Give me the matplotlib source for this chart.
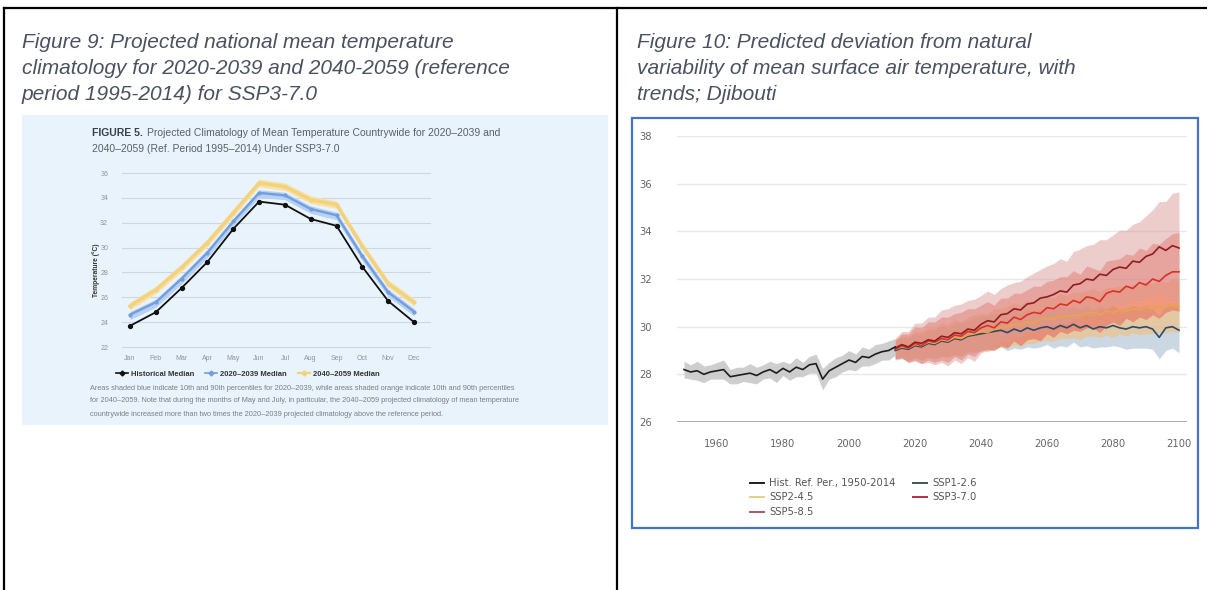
import matplotlib

matplotlib.use('Agg')
import matplotlib.pyplot as plt
from matplotlib.patches import Rectangle
from matplotlib.lines import Line2D
import numpy as np

# --- Figure 9 data: monthly national mean temperature (deg C) ---
months = ['Jan', 'Feb', 'Mar', 'Apr', 'May', 'Jun', 'Jul', 'Aug', 'Sep', 'Oct', 'Nov', 'Dec']
hist_median = [23.7, 24.8, 26.75, 28.85, 31.5, 33.7, 33.45, 32.3, 31.75, 28.45, 25.7, 24.0]
median_2020_2039 = [24.6, 25.6, 27.5, 29.6, 32.1, 34.4, 34.2, 33.1, 32.6, 29.3, 26.4, 24.85]
median_2040_2059 = [25.3, 26.6, 28.4, 30.4, 32.8, 35.2, 34.9, 33.85, 33.45, 30.1, 27.1, 25.6]
p10_2020_2039 = [24.2, 25.2, 27.1, 29.2, 31.75, 34.05, 33.85, 32.75, 32.25, 28.95, 26.05, 24.5]
p90_2020_2039 = [24.85, 25.85, 27.75, 29.85, 32.35, 34.65, 34.45, 33.35, 32.85, 29.55, 26.65, 25.1]
p10_2040_2059 = [25.0, 26.3, 28.1, 30.1, 32.5, 34.9, 34.6, 33.55, 33.15, 29.8, 26.8, 25.3]
p90_2040_2059 = [25.6, 26.9, 28.7, 30.7, 33.1, 35.5, 35.2, 34.15, 33.75, 30.4, 27.4, 25.9]

# --- Figure 10 data: annual mean surface air temperature (deg C) ---
hist_years = list(range(1950, 2015, 2))
hist_temp = [28.2, 28.1, 28.15, 28.0, 28.1, 28.15, 28.2, 27.9, 27.95, 28.0, 28.05,
             27.95, 28.1, 28.2, 28.05, 28.25, 28.1, 28.3, 28.2, 28.4, 28.45, 27.8,
             28.15, 28.3, 28.45, 28.6, 28.5, 28.75, 28.7, 28.85, 28.95, 29.0, 29.15]
hist_spread = [0.35, 0.3, 0.4, 0.35, 0.3, 0.35, 0.4, 0.3, 0.35, 0.3, 0.4,
               0.35, 0.3, 0.35, 0.4, 0.3, 0.35, 0.4, 0.3, 0.35, 0.4, 0.45,
               0.35, 0.4, 0.35, 0.4, 0.35, 0.4, 0.35, 0.4, 0.35, 0.4, 0.35]

proj_years = list(range(2014, 2101, 2))
ssp126 = [29.0, 29.1, 29.05, 29.2, 29.15, 29.3, 29.25, 29.4, 29.35, 29.5, 29.45,
          29.6, 29.65, 29.7, 29.75, 29.8, 29.85, 29.75, 29.9, 29.8, 29.95, 29.85,
          29.95, 30.0, 29.9, 30.05, 29.95, 30.1, 29.95, 30.05, 29.9, 30.0, 29.95,
          30.05, 29.95, 29.9, 30.0, 29.95, 30.0, 29.9, 29.55, 29.95, 30.0, 29.85]
ssp245 = [29.05, 29.15, 29.1, 29.25, 29.2, 29.35, 29.3, 29.45, 29.4, 29.55, 29.5,
          29.65, 29.7, 29.8, 29.75, 29.9, 29.95, 30.0, 30.1, 30.05, 30.2, 30.15,
          30.3, 30.35, 30.3, 30.45, 30.4, 30.5, 30.45, 30.55, 30.6, 30.5, 30.65,
          30.6, 30.7, 30.65, 30.75, 30.7, 30.8, 30.75, 30.85, 30.8, 30.9, 30.85]
ssp370 = [29.05, 29.2, 29.1, 29.3, 29.2, 29.4, 29.35, 29.5, 29.45, 29.65, 29.6,
          29.8, 29.75, 29.95, 30.05, 29.95, 30.2, 30.15, 30.4, 30.3, 30.5, 30.6,
          30.55, 30.8, 30.75, 30.95, 30.9, 31.1, 31.0, 31.25, 31.2, 31.05, 31.4,
          31.5, 31.45, 31.7, 31.6, 31.85, 31.75, 32.0, 31.9, 32.15, 32.3, 32.3]
ssp585 = [29.1, 29.25, 29.15, 29.35, 29.3, 29.45, 29.4, 29.6, 29.55, 29.75, 29.7,
          29.9, 29.85, 30.1, 30.25, 30.2, 30.5, 30.55, 30.75, 30.7, 30.95, 31.0,
          31.2, 31.25, 31.35, 31.5, 31.45, 31.75, 31.8, 32.0, 31.95, 32.2, 32.15,
          32.4, 32.5, 32.45, 32.75, 32.7, 32.95, 33.05, 33.35, 33.2, 33.4, 33.3]
ssp126_spread = [0.4, 0.45, 0.5, 0.5, 0.55, 0.6, 0.6, 0.65, 0.6, 0.65, 0.7,
                 0.65, 0.7, 0.75, 0.7, 0.75, 0.7, 0.75, 0.8, 0.75, 0.8, 0.75,
                 0.8, 0.75, 0.8, 0.85, 0.8, 0.75, 0.8, 0.85, 0.8, 0.85, 0.8,
                 0.85, 0.8, 0.85, 0.9, 0.85, 0.9, 0.85, 0.9, 0.95, 0.9, 0.95]
ssp245_spread = [0.4, 0.45, 0.5, 0.55, 0.6, 0.6, 0.65, 0.7, 0.7, 0.75, 0.7,
                 0.75, 0.8, 0.75, 0.8, 0.85, 0.8, 0.85, 0.9, 0.85, 0.9, 0.85,
                 0.9, 0.95, 0.9, 0.95, 0.9, 0.95, 1.0, 0.95, 1.0, 0.95, 1.0,
                 1.05, 1.0, 1.05, 1.0, 1.05, 1.1, 1.05, 1.1, 1.05, 1.1, 1.1]
ssp370_spread = [0.4, 0.5, 0.6, 0.7, 0.75, 0.8, 0.85, 0.9, 0.95, 0.9, 1.0,
                 0.95, 1.0, 0.95, 1.0, 0.95, 1.0, 1.05, 1.0, 1.1, 1.05, 1.1,
                 1.15, 1.1, 1.2, 1.15, 1.2, 1.25, 1.2, 1.3, 1.25, 1.3, 1.35,
                 1.3, 1.4, 1.35, 1.4, 1.45, 1.45, 1.5, 1.55, 1.55, 1.6, 1.65]
ssp585_spread = [0.4, 0.55, 0.65, 0.8, 0.85, 0.95, 1.0, 1.1, 1.2, 1.15, 1.25,
                 1.2, 1.3, 1.2, 1.25, 1.15, 1.1, 1.2, 1.1, 1.2, 1.15, 1.25,
                 1.2, 1.3, 1.3, 1.35, 1.3, 1.4, 1.45, 1.4, 1.5, 1.45, 1.5,
                 1.45, 1.55, 1.6, 1.55, 1.7, 1.7, 1.85, 1.9, 2.05, 2.2, 2.35]

W, H = 1207, 590
fig = plt.figure(figsize=(W / 100, H / 100), dpi=100)


def px_axes(x0, y0, x1, y1):
    # axes placed by pixel box (top-left origin)
    return fig.add_axes([x0 / W, 1 - y1 / H, (x1 - x0) / W, (y1 - y0) / H])


# page layer: table rules, captions and the image backgrounds
bg = fig.add_axes([0, 0, 1, 1])
bg.set_xlim(0, W)
bg.set_ylim(H, 0)
bg.axis('off')
bg.plot([4, W], [8, 8], color='black', lw=1.6)
bg.plot([4, 4], [8, H], color='black', lw=1.6)
bg.plot([617, 617], [8, H], color='black', lw=1.6)

cap = dict(fontsize=15, style='italic', color='#4a5160', family='Liberation Sans', va='center')
for i, line in enumerate(['Figure 9: Projected national mean temperature',
                          'climatology for 2020-2039 and 2040-2059 (reference',
                          'period 1995-2014) for SSP3-7.0']):
    bg.text(22, 42 + 26 * i, line, **cap)
for i, line in enumerate(['Figure 10: Predicted deviation from natural',
                          'variability of mean surface air temperature, with',
                          'trends; Djibouti']):
    bg.text(637, 42 + 26 * i, line, **cap)

bg.add_patch(Rectangle((22, 115), 586, 310, fc='#e8f3fc', ec='none'))
bg.add_patch(Rectangle((632, 118), 566, 410, fc='white', ec='#4472c4', lw=1.6))

small = ['Liberation Sans Narrow', 'Liberation Sans']
fig5 = bg.text(92, 133, 'FIGURE 5.', fontsize=7.5, fontweight='bold', color='#3a4048',
               family=small, va='center')
bg.annotate('Projected Climatology of Mean Temperature Countrywide for 2020\u20132039 and',
            xy=(1, 0.5), xycoords=fig5, xytext=(3, 0), textcoords='offset points',
            fontsize=7.5, color='#5a6068', family=small, va='center')
bg.text(92, 149, '2040\u20132059 (Ref. Period 1995\u20132014) Under SSP3-7.0',
        fontsize=7.5, color='#5a6068', family=small, va='center')
bg.text(96, 270, 'Temperature (\u00b0C)', rotation=90, fontsize=4.8, fontweight='bold',
        color='#333333', family=small, ha='center', va='center')
notes = ['Areas shaded blue indicate 10th and 90th percentiles for 2020\u20132039, while areas shaded orange indicate 10th and 90th percentiles',
         'for 2040\u20132059. Note that during the months of May and July, in particular, the 2040\u20132059 projected climatology of mean temperature',
         'countrywide increased more than two times the 2020\u20132039 projected climatology above the reference period.']
for i, line in enumerate(notes):
    bg.text(90, 388 + 13 * i, line, fontsize=5.3, color='#7a7f86', family=small, va='center')

# --- Figure 9: monthly climatology ---
axL = px_axes(122, 173, 430, 347)
axL.set_facecolor('none')
x = np.arange(len(months))
axL.set_xlim(-0.31, 11.62)
axL.set_ylim(22, 36)
for t in range(22, 37, 2):
    axL.axhline(t, color='#ccd7e1', lw=0.8, zorder=0, clip_on=False)
axL.fill_between(x, p10_2040_2059, p90_2040_2059, color='#f9e0a6', lw=0, zorder=1)
axL.fill_between(x, p10_2020_2039, p90_2020_2039, color='#b9d0f0', lw=0, zorder=2)
axL.plot(x, median_2040_2059, color='#f2d27c', lw=2.4, marker='o', ms=2, zorder=3)
axL.plot(x, median_2020_2039, color='#6f9fe0', lw=1.7, marker='o', ms=2, zorder=4)
axL.plot(x, hist_median, color='#111111', lw=1.3, marker='o', ms=2.8, zorder=5)
for s in axL.spines.values():
    s.set_visible(False)
axL.set_yticks(range(22, 37, 2))
axL.set_xticks(x)
axL.set_xticklabels(months)
axL.tick_params(length=0, labelsize=5, labelcolor='#8d949b', pad=6)
axL.tick_params(axis='y', pad=10)
for lab in axL.get_xticklabels() + axL.get_yticklabels():
    lab.set_family(small)
hL = [Line2D([], [], color='#111111', lw=1.2, marker='D', ms=2.5),
      Line2D([], [], color='#6f9fe0', lw=1.2, marker='D', ms=2.5),
      Line2D([], [], color='#f2d27c', lw=1.6, marker='D', ms=2.5)]
legL = axL.legend(hL, ['Historical Median', '2020\u20132039 Median', '2040\u20132059 Median'],
                  ncol=3, loc='center left', bbox_to_anchor=(112 / W, 1 - 374 / H),
                  bbox_transform=fig.transFigure, frameon=False, handlelength=1.6,
                  handletextpad=0.4, columnspacing=1.4, borderpad=0,
                  prop={'family': small, 'size': 5.5, 'weight': 'bold'})
for t in legL.get_texts():
    t.set_color('#333333')

# --- Figure 10: annual temperature and scenario trends ---
axR = px_axes(677, 136, 1187, 422)
axR.set_facecolor('none')
axR.set_xlim(1947.88, 2102.42)
axR.set_ylim(26, 38)
for t in range(28, 39, 2):
    axR.axhline(t, color='#e8e8e8', lw=1.0, zorder=0)
axR.axhline(26, color='#a0a0a0', lw=1.2, zorder=0)

ht = np.array(hist_temp)
hs = np.array(hist_spread)
axR.fill_between(hist_years, ht - hs, ht + hs, color='#c6c6c6', lw=0, alpha=0.85, zorder=1)
axR.plot(hist_years, ht, color='#1e1e1e', lw=1.2, zorder=6)

scenarios = [
    ('SSP1-2.6', ssp126, ssp126_spread, '#2f4a68', '#a9bfd3', 0.6),
    ('SSP2-4.5', ssp245, ssp245_spread, '#e9a445', '#f5bd70', 0.55),
    ('SSP3-7.0', ssp370, ssp370_spread, '#d8322a', '#ea5a4c', 0.5),
    ('SSP5-8.5', ssp585, ssp585_spread, '#8e1d24', '#dc9c98', 0.5),
]
for k, (name, med, spr, lc, fc, al) in enumerate(scenarios):
    med = np.array(med)
    spr = np.array(spr)
    axR.fill_between(proj_years, med - spr, med + spr, color=fc, alpha=al, lw=0, zorder=2 + 0.1 * k)
    axR.plot(proj_years, med, color=lc, lw=1.2, zorder=4 + 0.1 * k)

for s in axR.spines.values():
    s.set_visible(False)
axR.set_yticks(range(26, 39, 2))
axR.set_xticks(range(1960, 2101, 20))
axR.tick_params(length=0, labelsize=7.2, labelcolor='#666666')
axR.tick_params(axis='y', pad=18)
axR.tick_params(axis='x', pad=12)

legR = axR.legend([Line2D([], [], color='#1e1e1e', lw=1.4),
                   Line2D([], [], color='#e8cf85', lw=1.4),
                   Line2D([], [], color='#9c5a72', lw=1.4),
                   Line2D([], [], color='#3c5a52', lw=1.4),
                   Line2D([], [], color='#b2303e', lw=1.4)],
                  ['Hist. Ref. Per., 1950-2014', 'SSP2-4.5', 'SSP5-8.5', 'SSP1-2.6', 'SSP3-7.0'],
                  ncol=2, loc='upper left', bbox_to_anchor=(745 / W, 1 - 473 / H),
                  bbox_transform=fig.transFigure, frameon=False, fontsize=7.2,
                  handlelength=1.4, handletextpad=0.5, columnspacing=1.8,
                  labelspacing=0.45, borderpad=0)
for t in legR.get_texts():
    t.set_color('#555555')

plt.savefig('out.png', dpi=100)
